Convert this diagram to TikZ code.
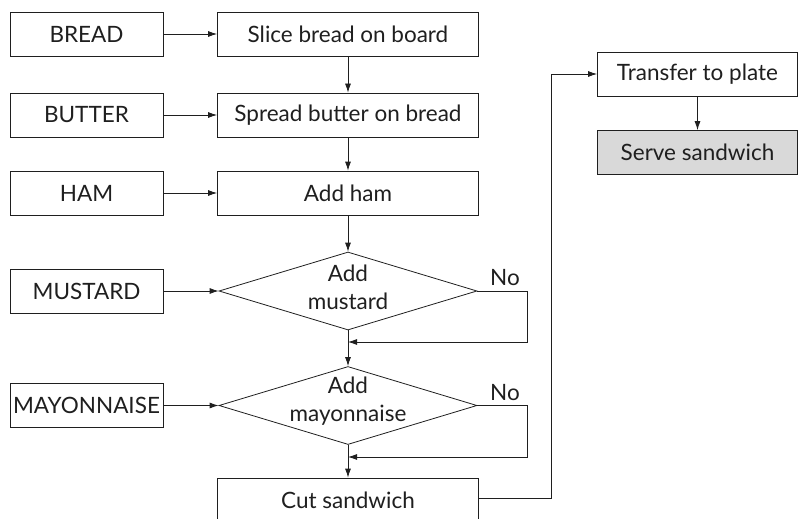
\documentclass[tikz,border=0pt]{standalone}
\usepackage{fontspec}
\setmainfont{Lato}
\usetikzlibrary{arrows.meta,shapes.geometric}
\definecolor{ink}{gray}{0.12}
\definecolor{servefill}{gray}{0.85}
\begin{document}
\begin{tikzpicture}[x=1pt,y=-1pt,
  every node/.style={font=\fontsize{22.5}{27}\selectfont, text=ink},
  box/.style={draw=ink, line width=0.8pt, minimum height=44pt, inner sep=0pt},
  inbox/.style={box, minimum width=153pt},
  stepbox/.style={box, minimum width=261pt},
  endbox/.style={box, minimum width=200pt, fill=servefill},
  decide/.style={diamond, draw=ink, line width=0.8pt, minimum width=258pt,
    minimum height=78pt, inner sep=0pt, shape aspect=3.3},
  decidetext/.style={align=center, inner sep=0pt,
    font=\fontsize{22.5}{28}\selectfont},
  flow/.style={draw=ink, line width=0.8pt, -{Latex[length=9pt,width=6pt]}},
  link/.style={draw=ink, line width=0.8pt}]
\useasboundingbox (0,0) rectangle (798,519);

% ingredient boxes
\node[inbox] (bread)  at (86.5,34) {BREAD};
\node[inbox] (butter) at (86.5,115) {BUTTER};
\node[inbox] (hamin)  at (86.5,193) {HAM};
\node[inbox] (mustin) at (86.5,291) {MUSTARD};
\node[inbox] (mayoin) at (86.5,405.5) {MAYONNAISE};

% main process steps
\node[stepbox] (slice)  at (348,34) {Slice bread on board};
\node[stepbox] (spread) at (348,115) {Spread butter on bread};
\node[stepbox] (addham) at (348,193) {Add ham};
\node[decide]  (dmust)  at (348,291) {};
\node[decidetext] (dmusttext) at (348,287) {Add\\mustard};
\node[decide]  (dmayo)  at (348,405.5) {};
\node[decidetext] (dmayotext) at (348,401.5) {Add\\mayonnaise};
\node[stepbox] (cut)    at (348,500) {Cut sandwich};
\node[box, minimum width=200pt] (transfer) at (697.5,74) {Transfer to plate};
\node[endbox] (serve) at (697.5,152.5) {Serve sandwich};

% "No" labels
\node (no1) at (505,278) {No};
\node (no2) at (505,393) {No};

% bypass loops and routing points
\coordinate (m1) at (527,291);
\coordinate (m2) at (527,342);
\coordinate (m3) at (348,342);
\coordinate (y1) at (527,405.5);
\coordinate (y2) at (527,457);
\coordinate (y3) at (348,457);
\coordinate (c1) at (551,498);
\coordinate (c2) at (551,74);

% ingredient inputs
\draw[flow] (bread) -- (slice);
\draw[flow] (butter) -- (spread);
\draw[flow] (hamin) -- (addham);
\draw[flow] (mustin) -- (dmust.west);
\draw[flow] (mayoin) -- (dmayo.west);

% main sequence
\draw[flow] (slice) -- (spread);
\draw[flow] (spread) -- (addham);
\draw[flow] (addham) -- (dmust.north);
\draw[flow] (dmust.south) -- (dmayo.north);
\draw[flow] (dmayo.south) -- (cut.north);
\draw[flow] (dmust.east) -- (m1) -- (m2) -- (m3);
\draw[flow] (dmayo.east) -- (y1) -- (y2) -- (y3);
\draw[flow] (cut.east |- c1) -- (c1) -- (c2) -- (transfer.west);
\draw[flow] (transfer) -- (serve);
\end{tikzpicture}
\end{document}
